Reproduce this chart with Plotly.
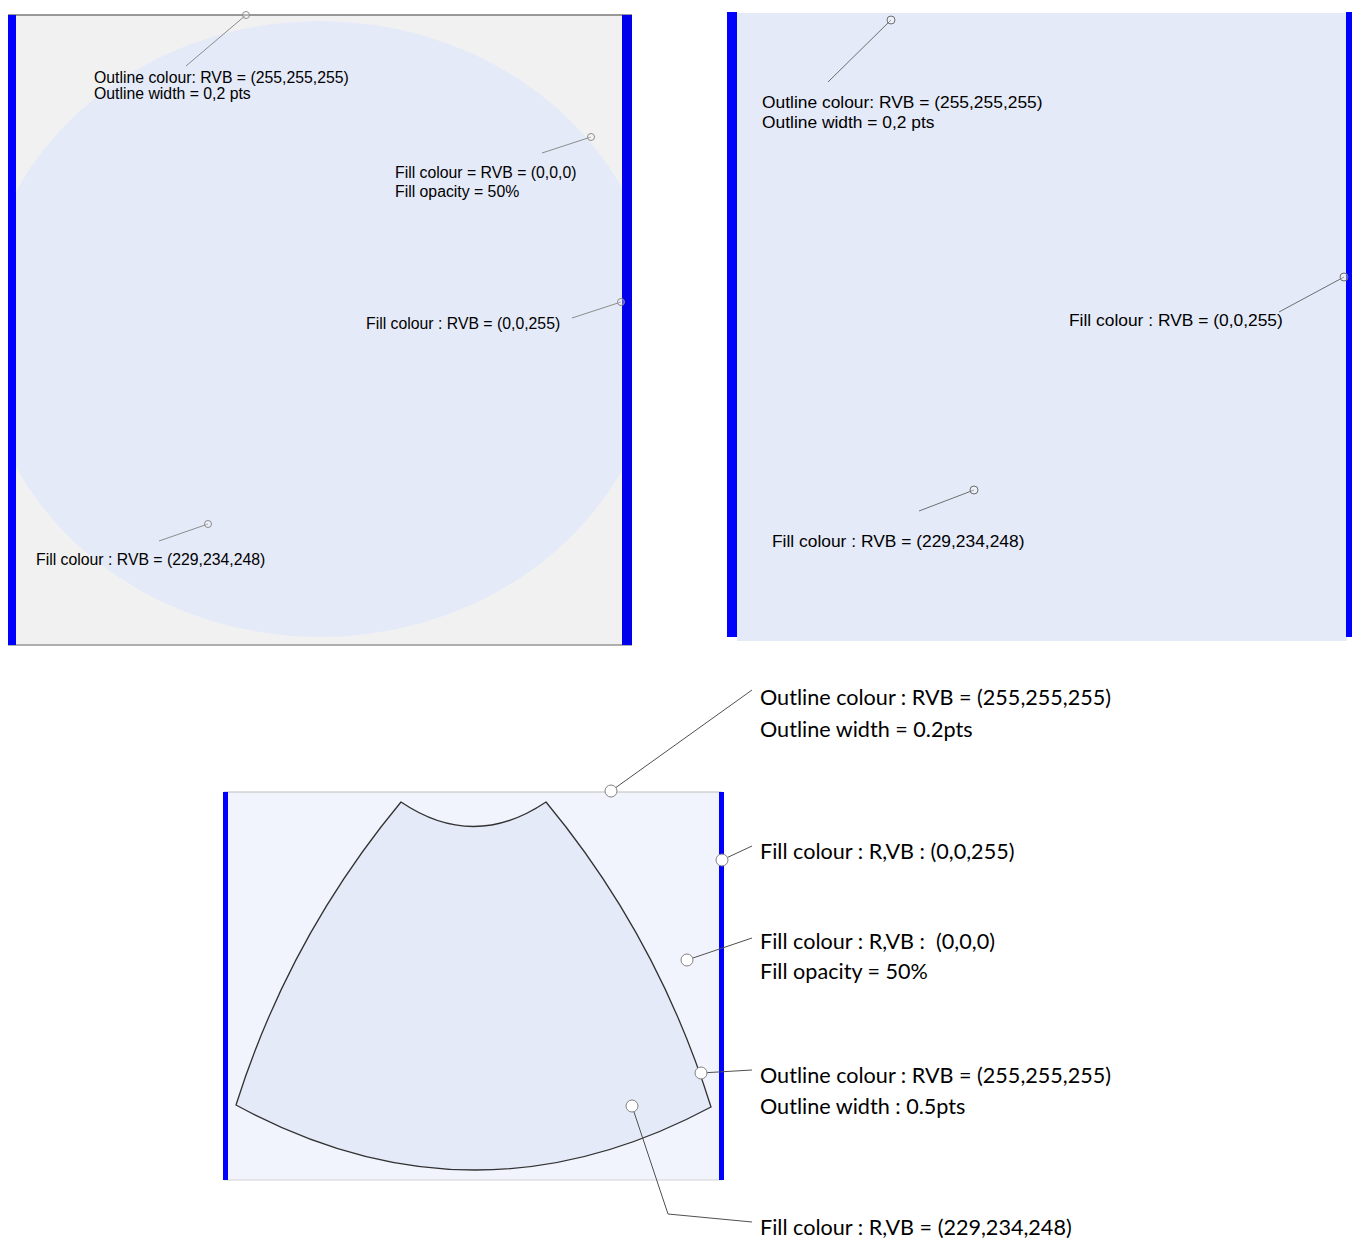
import numpy as np
import plotly.graph_objects as go

# page body has an 8px margin: the figure is sized and ranged so that
# one data unit equals one screen pixel of the 1360x1239 window
OFF = 8
W, H = 1360 - OFF, 1239 - OFF

# ---------------- data ----------------
# panel 1 (top-left)
p1_lines = ["Outline colour: RVB = (255,255,255)", "Outline width = 0,2 pts",
            "Fill colour = RVB = (0,0,0)", "Fill opacity = 50%",
            "Fill colour : RVB = (0,0,255)",
            "Fill colour : RVB = (229,234,248)"]
p1_text_x = [92, 92, 393, 393, 364, 34]
p1_text_y = [77, 93, 172, 191, 323, 559]
p1_lead_x0 = [186, 542, 572, 159]
p1_lead_y0 = [66, 153, 318, 541]
p1_lead_x1 = [246, 591, 621, 208]
p1_lead_y1 = [15, 137, 302, 524]

# panel 2 (top-right)
p2_lines = ["Outline colour: RVB = (255,255,255)", "Outline width = 0,2 pts",
            "Fill colour : RVB = (0,0,255)",
            "Fill colour : RVB = (229,234,248)"]
p2_text_x = [760, 760, 1067, 770]
p2_text_y = [102, 122, 320, 541]
p2_lead_x0 = [828, 1279, 919]
p2_lead_y0 = [82, 312, 511]
p2_lead_x1 = [891, 1344, 974]
p2_lead_y1 = [20, 277, 490]

# panel 3 (bottom)
p3_lines = ["Outline colour : RVB = (255,255,255)", "Outline width = 0.2pts",
            "Fill colour : R,VB : (0,0,255)",
            "Fill colour : R,VB :  (0,0,0)", "Fill opacity = 50%",
            "Outline colour : RVB = (255,255,255)", "Outline width : 0.5pts",
            "Fill colour : R,VB = (229,234,248)"]
p3_text_x = [758] * 8
p3_text_y = [697, 729, 851, 941, 971, 1075, 1106, 1227]
p3_leaders_x = [[611, 752], [722, 752], [687, 752], [701, 752], [632, 668, 752]]
p3_leaders_y = [[791, 690], [860, 846], [960, 938], [1073, 1070], [1106, 1214, 1222]]

BLUE = "rgb(0,0,255)"
LIGHT = "rgb(229,234,248)"

fig = go.Figure()
shapes = []

def rect(x0, y0, x1, y1, color):
    shapes.append(dict(type="rect", xref="x", yref="y", x0=x0, y0=y0, x1=x1, y1=y1,
                       fillcolor=color, layer="below", line=dict(width=0)))

def hline(x0, x1, y, color, width):
    shapes.append(dict(type="line", xref="x", yref="y", x0=x0, x1=x1, y0=y, y1=y,
                       layer="below", line=dict(color=color, width=width)))

# ---- panel 1 ----
rect(7, 15, 632, 645, "rgb(241,241,241)")
hline(7, 632, 15, "rgb(120,120,120)", 1.5)
hline(7, 632, 645, "rgb(150,150,150)", 1.5)
rect(7, 15, 16, 645, BLUE)
rect(622, 15, 632, 645, "rgb(0,0,235)")

# clipped ellipse
cx, cy, rx, ry = 320, 329, 340, 308
th = np.linspace(0, 2 * np.pi, 721)
ex = np.clip(cx + rx * np.cos(th), 16, 622)
ey = cy + ry * np.sin(th)
fig.add_trace(go.Scatter(x=ex, y=ey, mode="lines", fill="toself",
                         fillcolor=LIGHT, line=dict(width=0), hoverinfo="skip"))

# ---- panel 2 ----
rect(737, 13, 1347, 641, LIGHT)
rect(727, 12, 737, 637, BLUE)
rect(1346, 12, 1356, 637, BLUE)

# ---- panel 3 ----
rect(224, 792, 722, 1180, "rgb(241,244,252)")
hline(224, 722, 792, "rgb(190,190,190)", 1.2)
hline(224, 722, 1180, "rgb(210,210,210)", 1.2)
rect(223, 792, 228, 1180, BLUE)
rect(719, 792, 724, 1180, BLUE)
sector = ("M 401,802 Q 473.5,851 546,802 Q 658,937 711,1107 "
          "Q 473.5,1234 236,1105 Q 289,937 401,802 Z")
shapes.append(dict(type="path", xref="x", yref="y", path=sector, layer="below",
                   fillcolor=LIGHT, line=dict(color="rgb(50,50,50)", width=1.3)))

# ---- leaders ----
for i in range(len(p1_lead_x0)):
    fig.add_trace(go.Scatter(x=[p1_lead_x0[i], p1_lead_x1[i]],
                             y=[p1_lead_y0[i], p1_lead_y1[i]], mode="lines",
                             line=dict(color="rgb(140,140,140)", width=1), hoverinfo="skip"))
fig.add_trace(go.Scatter(x=p1_lead_x1, y=p1_lead_y1, mode="markers",
                         marker=dict(size=7, color="rgba(255,255,255,0.3)",
                                     line=dict(color="rgb(140,140,140)", width=1)),
                         hoverinfo="skip"))
for i in range(len(p2_lead_x0)):
    fig.add_trace(go.Scatter(x=[p2_lead_x0[i], p2_lead_x1[i]],
                             y=[p2_lead_y0[i], p2_lead_y1[i]], mode="lines",
                             line=dict(color="rgb(110,110,110)", width=1), hoverinfo="skip"))
fig.add_trace(go.Scatter(x=p2_lead_x1, y=p2_lead_y1, mode="markers",
                         marker=dict(size=8, color="rgba(255,255,255,0.3)",
                                     line=dict(color="rgb(110,110,110)", width=1)),
                         hoverinfo="skip"))
for lx, ly in zip(p3_leaders_x, p3_leaders_y):
    fig.add_trace(go.Scatter(x=lx, y=ly, mode="lines",
                             line=dict(color="rgb(80,80,80)", width=1), hoverinfo="skip"))
fig.add_trace(go.Scatter(x=[l[0] for l in p3_leaders_x], y=[l[0] for l in p3_leaders_y],
                         mode="markers",
                         marker=dict(size=12, color="white",
                                     line=dict(color="rgb(130,130,130)", width=1)),
                         hoverinfo="skip"))

# ---- text ----
ann = []
def add_texts(lines, xs, ys, family, size):
    for t, x, y in zip(lines, xs, ys):
        ann.append(dict(x=x, y=y, xref="x", yref="y", text=t, showarrow=False,
                        xanchor="left", yanchor="middle",
                        font=dict(family=family, size=size, color="black")))

add_texts(p1_lines, p1_text_x, p1_text_y, "Liberation Sans, Arial", 15.8)
add_texts(p2_lines, p2_text_x, p2_text_y, "Liberation Sans, Arial", 17.4)
add_texts(p3_lines, p3_text_x, p3_text_y, "Lato", 21.6)

fig.update_layout(
    width=W, height=H, margin=dict(l=0, r=0, t=0, b=0),
    paper_bgcolor="white", plot_bgcolor="white", showlegend=False,
    shapes=shapes, annotations=ann,
    xaxis=dict(range=[OFF, 1360], visible=False, showgrid=False, zeroline=False, fixedrange=True),
    yaxis=dict(range=[1239, OFF], visible=False, showgrid=False, zeroline=False, fixedrange=True),
)
fig.write_html("out.html")
